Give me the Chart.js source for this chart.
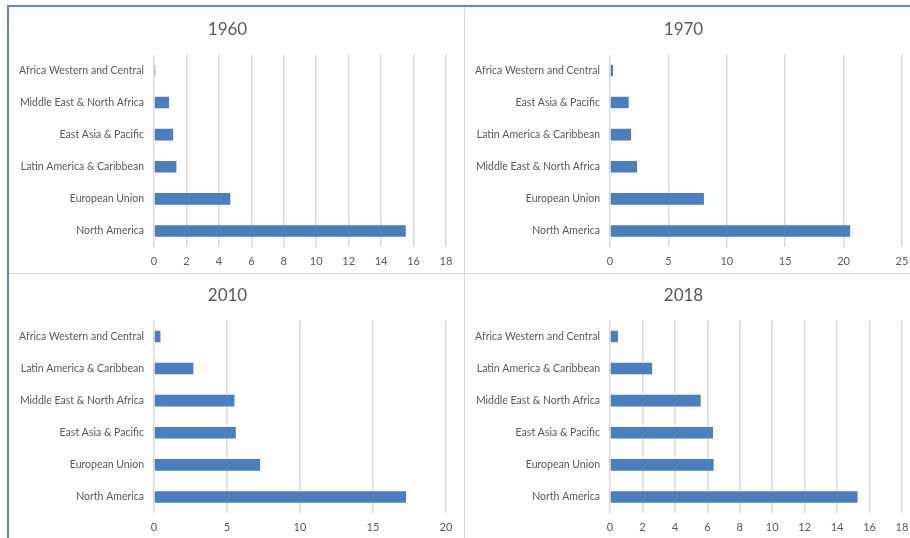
<!DOCTYPE html>
<html>
<head>
<meta charset="utf-8">
<script src="https://cdn.jsdelivr.net/npm/chart.js@4.4.1/dist/chart.umd.min.js"></script>
<style>
  html, body { margin: 0; padding: 0; background: #fff; overflow: hidden; }
  body { width: 910px; height: 538px; position: relative; }
  .panel { position: absolute; width: 455px; height: 265px; }
  .rule { position: absolute; background: #d9d9d9; }
  .frame { position: absolute; background: #5a88d6; }
</style>
</head>
<body>
<div class="frame" style="left:7px; top:5px; width:903px; height:2px;"></div>
<div class="frame" style="left:7px; top:5px; width:2px; height:533px;"></div>
<div class="rule" style="left:464px; top:7px; width:1px; height:531px;"></div>
<div class="rule" style="left:9px; top:273px; width:901px; height:1px;"></div>

<div class="panel" style="left:9px; top:8px;"><canvas id="c1960"></canvas></div>
<div class="panel" style="left:465px; top:8px;"><canvas id="c1970"></canvas></div>
<div class="panel" style="left:9px; top:274px;"><canvas id="c2010"></canvas></div>
<div class="panel" style="left:465px; top:274px;"><canvas id="c2018"></canvas></div>

<script>
// regions listed top to bottom as they appear in each panel
const regions1960 = ['Africa Western and Central', 'Middle East & North Africa', 'East Asia & Pacific',
    'Latin America & Caribbean', 'European Union', 'North America'];
const values1960 = [0.08, 0.93, 1.18, 1.38, 4.70, 15.52];

const regions1970 = ['Africa Western and Central', 'East Asia & Pacific', 'Latin America & Caribbean',
    'Middle East & North Africa', 'European Union', 'North America'];
const values1970 = [0.26, 1.60, 1.80, 2.32, 8.04, 20.56];

const regions2010 = ['Africa Western and Central', 'Latin America & Caribbean', 'Middle East & North Africa',
    'East Asia & Pacific', 'European Union', 'North America'];
const values2010 = [0.44, 2.70, 5.51, 5.60, 7.27, 17.26];

const regions2018 = ['Africa Western and Central', 'Latin America & Caribbean', 'Middle East & North Africa',
    'East Asia & Pacific', 'European Union', 'North America'];
const values2018 = [0.49, 2.60, 5.59, 6.35, 6.39, 15.26];

const axisMax = { '1960': 18, '1970': 25, '2010': 20, '2018': 18 };
const axisStep = { '1960': 2, '1970': 5, '2010': 5, '2018': 2 };

const textColor = '#595959';
const gridColor = '#d9d9d9';
const barColor = '#4a7ebf';
const fontFamily = 'Lato, "Liberation Sans", sans-serif';

function makeChart(year, labels, values)
{
    let ctx = document.getElementById('c' + year);
    return new Chart(ctx, {
        type: 'bar',
        data: {
            labels: labels,
            datasets: [{
                data: values,
                backgroundColor: barColor,
                borderWidth: 0,
                categoryPercentage: 1,
                barPercentage: 0.36
            }]
        },
        options: {
            indexAxis: 'y',
            responsive: true,
            maintainAspectRatio: false,
            animation: false,
            layout: { padding: { left: 0, right: 18, top: 0, bottom: 0 } },
            plugins: {
                legend: { display: false },
                tooltip: { enabled: false },
                title: {
                    display: true,
                    text: year,
                    color: textColor,
                    font: { family: fontFamily, size: 17, weight: 'normal' },
                    padding: { top: 11, bottom: 15 }
                }
            },
            scales: {
                x: {
                    min: 0,
                    max: axisMax[year],
                    ticks: {
                        stepSize: axisStep[year],
                        color: textColor,
                        font: { family: fontFamily, size: 11 },
                        padding: 8,
                        maxRotation: 0
                    },
                    grid: { color: gridColor, lineWidth: 1.5, drawTicks: false },
                    border: { display: false },
                    afterFit: (scale) => { scale.height = 26; }
                },
                y: {
                    ticks: {
                        color: textColor,
                        font: { family: fontFamily, size: 10.5 },
                        padding: 10,
                        autoSkip: false
                    },
                    grid: { display: false, drawTicks: false },
                    border: { display: false },
                    afterFit: (scale) => { scale.width = 145; }
                }
            }
        }
    });
}

makeChart('1960', regions1960, values1960);
makeChart('1970', regions1970, values1970);
makeChart('2010', regions2010, values2010);
makeChart('2018', regions2018, values2018);
</script>
</body>
</html>
